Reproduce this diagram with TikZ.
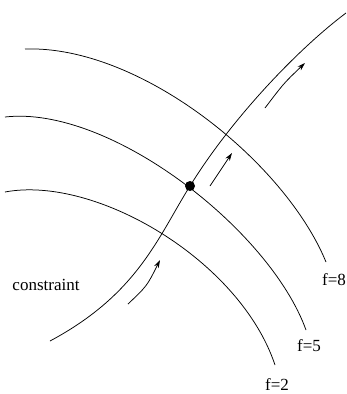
\documentclass[tikz,border=0pt]{standalone}
\usepackage{fontspec}
\setmainfont{Liberation Serif}
\usetikzlibrary{arrows.meta}
\begin{document}
\begin{tikzpicture}[x=1pt,y=-1pt,
  curve/.style={line width=0.75pt, black},
  dir/.style={line width=0.75pt, -{Stealth[length=8pt,width=5pt]}},
  lbl/.style={font=\fontsize{17}{20}\selectfont, inner sep=0pt, anchor=base}]
\useasboundingbox (0,0) rectangle (346,394);
% level curves
\coordinate (f8s) at (25,49);  \coordinate (f8e) at (326,262);
\coordinate (f5s) at (5,117);  \coordinate (f5e) at (306,330);
\coordinate (f2s) at (5,192);  \coordinate (f2e) at (275,365);
\draw[curve] (f8s) .. controls (140,45) and (285,162) .. (f8e);
\draw[curve] (f5s) .. controls (110,105) and (270,230) .. (f5e);
\draw[curve] (f2s) .. controls (95,175) and (240,260) .. (f2e);
% constraint
\coordinate (cs) at (50,341); \coordinate (ce) at (346,13);
\node[circle, fill=black, inner sep=0pt, minimum size=10pt] (dot) at (190,186) {};
\draw[curve] (cs) .. controls (138,294) and (158,237) .. (dot.center)
                  .. controls (232,118) and (298,49) .. (ce);
% arrows
\coordinate (a1s) at (128,304); \coordinate (a1e) at (160,260);
\coordinate (a2s) at (210,186); \coordinate (a2e) at (232,153);
\coordinate (a3s) at (265,108); \coordinate (a3e) at (305,63);
\draw[dir] (a1s) .. controls (147,286) .. (a1e);
\draw[dir] (a2s) .. controls (222,168) .. (a2e);
\draw[dir] (a3s) .. controls (284,83) .. (a3e);
% labels
\node[lbl] (c) at (46,290) {constraint};
\node[lbl] (f8) at (334,285) {f=8};
\node[lbl] (f5) at (309,351) {f=5};
\node[lbl] (f2) at (277,390) {f=2};
\end{tikzpicture}
\end{document}
